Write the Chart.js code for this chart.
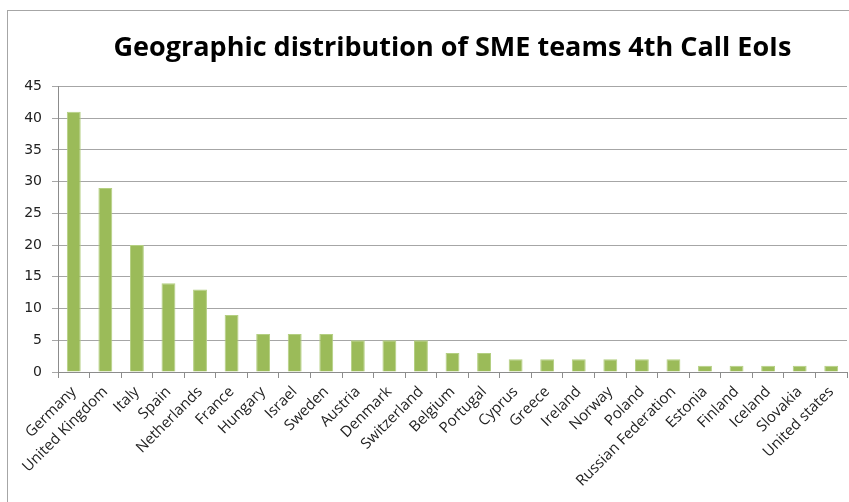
<!DOCTYPE html>
<html>
<head>
<meta charset="utf-8">
<script src="https://cdn.jsdelivr.net/npm/chart.js@4"></script>
<style>
  html, body { margin: 0; padding: 0; background: #fff; overflow: hidden; }
  #frame {
    position: absolute; left: 7px; top: 10px;
    width: 900px; height: 600px;
    border: 1px solid #a6a6a6;
  }
  #wrap { position: absolute; left: 8px; top: 11px; width: 841px; height: 491px; }
</style>
</head>
<body>
<div id="frame"></div>
<div id="wrap"><canvas id="geoChart"></canvas></div>
<script>
// Số đội SME theo quốc gia
const countries = ['Germany', 'United Kingdom', 'Italy', 'Spain', 'Netherlands', 'France',
  'Hungary', 'Israel', 'Sweden', 'Austria', 'Denmark', 'Switzerland', 'Belgium', 'Portugal',
  'Cyprus', 'Greece', 'Ireland', 'Norway', 'Poland', 'Russian Federation', 'Estonia',
  'Finland', 'Iceland', 'Slovakia', 'United states'];
const teams = [41, 29, 20, 14, 13, 9, 6, 6, 6, 5, 5, 5, 3, 3, 2, 2, 2, 2, 2, 2, 1, 1, 1, 1, 1];
const yTicks = [0, 5, 10, 15, 20, 25, 30, 35, 40, 45];

const ctx = document.getElementById('geoChart').getContext('2d');
new Chart(ctx, {
  type: 'bar',
  data: {
    labels: countries,
    datasets: [{
      label: 'SME teams',
      data: teams,
      backgroundColor: '#9bbb59',
      borderColor: '#b4cf82',
      borderWidth: 1,
      borderSkipped: 'bottom',
      barPercentage: 0.44,
      categoryPercentage: 1
    }]
  },
  options: {
    responsive: true,
    maintainAspectRatio: false,
    animation: false,
    layout: { padding: { right: 1, bottom: 0 } },
    plugins: {
      legend: { display: false },
      tooltip: { enabled: false },
      title: {
        display: true,
        fullSize: false,
        text: 'Geographic distribution of SME teams 4th Call EoIs',
        color: '#000',
        font: { family: 'Open Sans', size: 27, weight: 'bold' },
        padding: { top: 21, bottom: 22 }
      }
    },
    scales: {
      x: {
        grid: {
          display: true, drawOnChartArea: false, drawTicks: true,
          tickLength: 6, color: '#8c8c8c', offset: true
        },
        border: { color: '#8c8c8c' },
        ticks: {
          color: '#222', maxRotation: 45, minRotation: 45, autoSkip: false,
          font: { family: 'Open Sans', size: 15 }, padding: 5
        },
        afterFit: s => { s.height = 130; }
      },
      y: {
        min: 0, max: 45,
        afterBuildTicks: s => { s.ticks = yTicks.map(v => ({ value: v })); },
        grid: { color: '#a6a6a6', tickLength: 6 },
        border: { color: '#8c8c8c' },
        ticks: {
          color: '#222', padding: 10,
          font: { family: 'DejaVu Sans', size: 14 }
        },
        afterFit: s => { s.width = 50; }
      }
    }
  }
});
</script>
</body>
</html>
